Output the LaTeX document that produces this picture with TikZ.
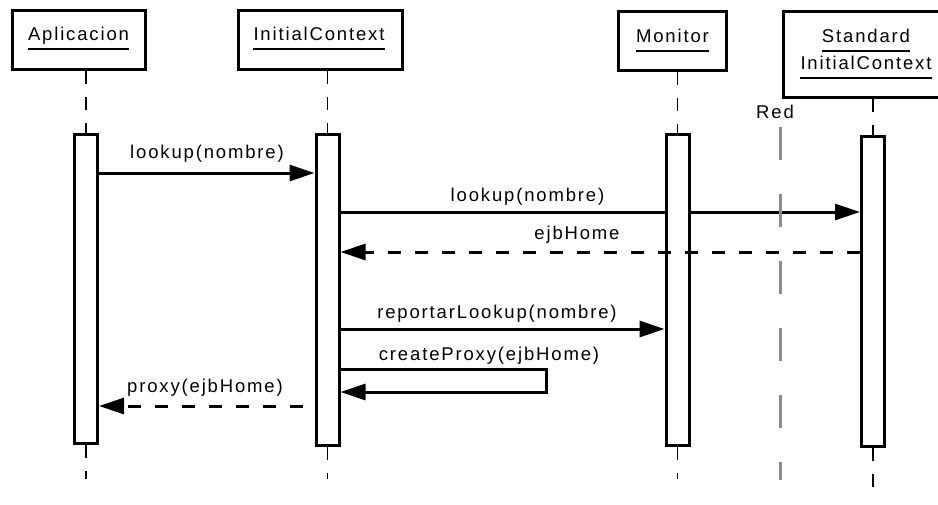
\documentclass[tikz,border=0pt]{standalone}
\usepackage{fontspec}
\setmainfont{Liberation Sans}[LetterSpace=10]
\usetikzlibrary{arrows.meta,backgrounds}
\definecolor{netgray}{RGB}{140,140,140}
\begin{document}
\begin{tikzpicture}[x=1pt,y=-1pt,
  actor/.style={draw=black,line width=3.3pt,fill=white,inner sep=0pt},
  lbl/.style={font=\fontsize{18.5pt}{22pt}\selectfont,inner sep=0pt,anchor=base},
  uline/.style={line width=1.6pt},
  life/.style={line width=1.8pt,dash pattern=on 13pt off 13pt},
  act/.style={draw=black,line width=3pt,fill=white,minimum width=23pt,inner sep=0pt},
  msg/.style={line width=3pt,-{Triangle[length=25pt,width=16pt]}},
  ret/.style={msg,dash pattern=on 13pt off 14pt},
  netline/.style={draw=netgray,line width=3pt,dash pattern=on 33pt off 34pt},
]
\useasboundingbox (0,0) rectangle (938,504);

% actor boxes
\node[actor,minimum width=133pt,minimum height=59pt] (bA) at (79,40) {};
\node[actor,minimum width=164pt,minimum height=59pt] (bI) at (320.5,40) {};
\node[actor,minimum width=108pt,minimum height=59pt] (bM) at (672.5,41) {};
\node[actor,minimum width=165pt,minimum height=86pt] (bS) at (866,54.5) {};

% actor names
\node[lbl] (tA) at (78.5,40) {Aplicacion};
\draw[uline] ([yshift=-9pt]tA.base west) -- ([yshift=-9pt]tA.base east);
\node[lbl] (tI) at (319,40) {InitialContext};
\draw[uline] ([yshift=-9pt]tI.base west) -- ([yshift=-9pt]tI.base east);
\node[lbl] (tM) at (672.5,42) {Monitor};
\draw[uline] ([yshift=-9pt]tM.base west) -- ([yshift=-9pt]tM.base east);
\node[lbl] (tS1) at (866,42) {Standard};
\draw[uline] ([yshift=-9pt]tS1.base west) -- ([yshift=-9pt]tS1.base east);
\node[lbl] (tS2) at (866,69) {InitialContext};
\draw[uline] ([yshift=-9pt]tS2.base west) -- ([yshift=-9pt]tS2.base east);

% activation bars
\node[act,minimum height=309pt] (aA) at (86,289) {};
\node[act,minimum height=311pt] (aI) at (327.5,290) {};
\node[act,minimum height=311pt] (aM) at (677.5,290) {};
\node[act,minimum height=310pt] (aS) at (873,291.5) {};

% helper coordinates
\coordinate (yend) at (0,479);
\coordinate (yendS) at (0,490);
\coordinate (y1) at (0,173);
\coordinate (y2) at (0,212);
\coordinate (y3) at (0,252);
\coordinate (y4) at (0,329);
\coordinate (c5) at (546,369);
\coordinate (y5) at (0,392);
\coordinate (p6) at (303,406);
\coordinate (redtop) at (780,127);
\coordinate (redend) at (780,480);

\begin{scope}[on background layer]
  % lifelines
  \draw[life] (aA.north |- bA.south) -- (aA.north);
  \draw[life] (aA.south) -- (aA.south |- yend);
  \draw[life] (aI.north |- bI.south) -- (aI.north);
  \draw[life] (aI.south) -- (aI.south |- yend);
  \draw[life] (aM.north |- bM.south) -- (aM.north);
  \draw[life] (aM.south) -- (aM.south |- yend);
  \draw[life] (aS.north |- bS.south) -- (aS.north);
  \draw[life] (aS.south) -- (aS.south |- yendS);
  % message passing behind the Monitor bar
  \draw[msg] (aI.east |- y2) -- (aS.west |- y2);
\end{scope}

% network boundary
\node[lbl] (red) at (775,118) {Red};
\draw[netline] (redtop) -- (redend);

% messages
\draw[msg] (aA.east |- y1) -- (aI.west |- y1);
\node[lbl] (l1) at (207,158) {lookup(nombre)};
\node[lbl] (l2) at (527.5,201) {lookup(nombre)};
\draw[ret] (aS.west |- y3) -- (aI.east |- y3);
\node[lbl] (l3) at (577,239) {ejbHome};
\draw[msg] (aI.east |- y4) -- (aM.west |- y4);
\node[lbl] (l4) at (497,318) {reportarLookup(nombre)};
\draw[msg,line join=miter] (aI.east |- c5) -- (c5) |- (aI.east |- y5);
\node[lbl] (l5) at (489,360) {createProxy(ejbHome)};
\draw[ret] (p6) -- (aA.east |- p6);
\node[lbl] (l6) at (205,392) {proxy(ejbHome)};
\end{tikzpicture}
\end{document}
